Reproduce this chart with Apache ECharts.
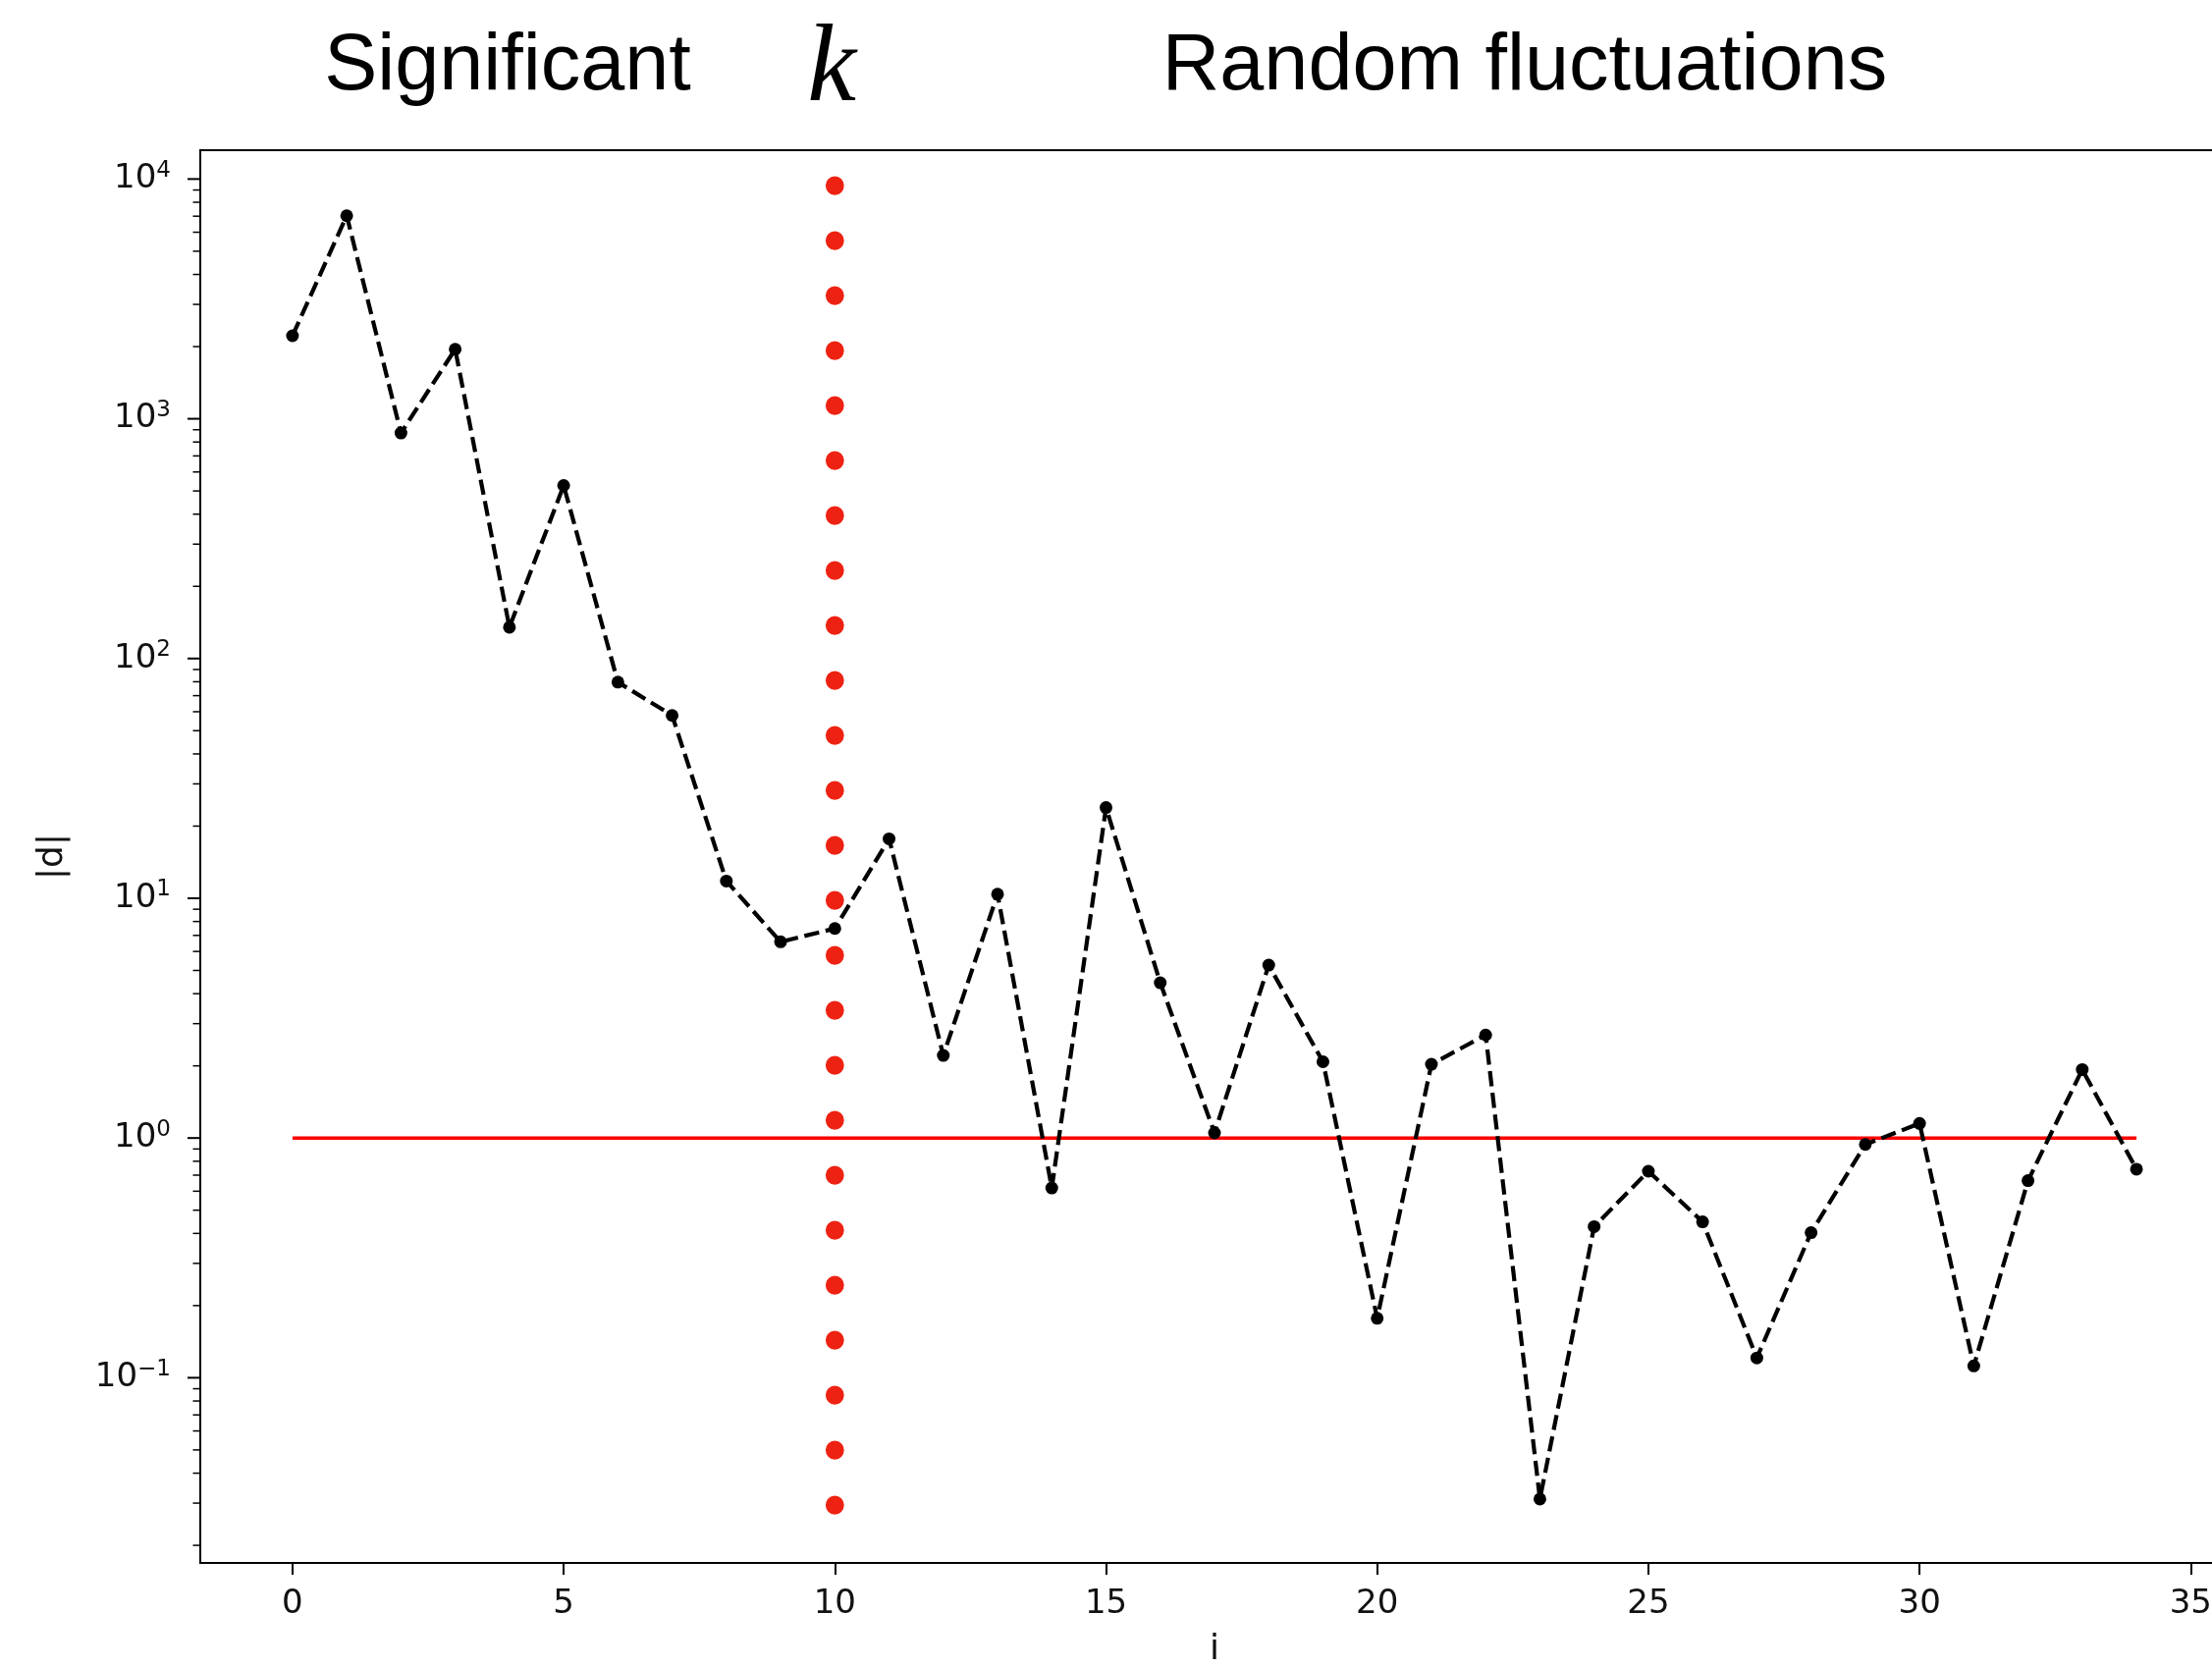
<!DOCTYPE html>
<html>
<head>
<meta charset="utf-8">
<script src="https://cdn.jsdelivr.net/npm/echarts@6/dist/echarts.min.js"></script>
<style>
html,body{margin:0;padding:0;background:#fff;}
#chart{width:2253px;height:1698px;}
</style>
</head>
<body>
<div id="chart"></div>
<script>
// ---- data ----
const indices = [0,1,2,3,4,5,6,7,8,9,10,11,12,13,14,15,16,17,18,19,20,21,22,23,24,25,26,27,28,29,30,31,32,33,34];
const dValues = [2220, 7030, 872, 1950, 135, 527, 79.7, 57.9, 11.8, 6.58, 7.48, 17.7, 2.21, 10.4, 0.619, 23.9, 4.44, 1.05, 5.26, 2.08, 0.177, 2.03, 2.69, 0.0312, 0.427, 0.727, 0.447, 0.121, 0.403, 0.94, 1.15, 0.112, 0.664, 1.93, 0.741];
const thresholdLine = [[0, 1], [34, 1]];
const kLine = [[10, 0.02938], [10, 9400]];
const xTicks = [0, 5, 10, 15, 20, 25, 30, 35];
const yDecades = [-2, -1, 0, 1, 2, 3, 4];
const titleLeft = 'Significant';
const titleK = 'k';
const titleRight = 'Random fluctuations';

const X_MIN = -1.7, X_MAX = 35.7;
const Y_MIN = 0.01689, Y_MAX = 13190;

// y tick values (major powers of ten and minor 2..9 multiples) inside the range
const yTickVals = [];
yDecades.forEach(function (e) {
  for (let m = 1; m <= 9; m++) {
    const v = m * Math.pow(10, e);
    if (v >= Y_MIN && v <= Y_MAX) yTickVals.push([X_MIN, v, m === 1 ? 1 : 0]);
  }
});

const chart = echarts.init(document.getElementById('chart'), null, {renderer: 'canvas'});
const tickFont = 'DejaVu Sans';

chart.setOption({
  animation: false,
  backgroundColor: '#fff',
  grid: {
    show: true, borderColor: '#000', borderWidth: 2, backgroundColor: 'transparent',
    left: 204, top: 153, width: 2066, height: 1439,
    containLabel: false, outerBoundsMode: 'none'
  },
  xAxis: {
    type: 'value', min: X_MIN, max: X_MAX,
    axisLine: {show: false},
    splitLine: {show: false},
    axisTick: {show: true, customValues: xTicks, length: 12, lineStyle: {color: '#000', width: 2}},
    axisLabel: {customValues: xTicks, margin: 25, fontSize: 34, fontFamily: tickFont, color: '#111'},
    name: 'i', nameLocation: 'middle', nameGap: 71,
    nameTextStyle: {fontSize: 36, fontFamily: tickFont, color: '#111'}
  },
  yAxis: {
    type: 'log', logBase: 10, min: Y_MIN, max: Y_MAX,
    axisLine: {show: false},
    splitLine: {show: false},
    axisTick: {show: false},
    axisLabel: {
      margin: 30,
      formatter: function (v) {
        const l = Math.log10(v);
        const e = Math.round(l);
        if (Math.abs(l - e) > 1e-6) return '';
        const s = e < 0 ? '\u2212' + (-e) : String(e);
        return '{b|10}{s|' + s + '}';
      },
      rich: {
        b: {fontSize: 34, fontFamily: tickFont, color: '#111', lineHeight: 40},
        s: {fontSize: 23, fontFamily: tickFont, color: '#111', verticalAlign: 'top', lineHeight: 26}
      }
    },
    name: '|d|', nameLocation: 'middle', nameGap: 132,
    nameTextStyle: {fontSize: 36, fontFamily: tickFont, color: '#111'}
  },
  graphic: [
    {type: 'text', x: 517, y: 69, style: {text: titleLeft, font: '81px "Liberation Sans"', fill: '#000', textAlign: 'center', textVerticalAlign: 'middle'}},
    {type: 'text', x: 847, y: 73, style: {text: titleK, font: 'italic 112px "Liberation Serif"', fill: '#000', textAlign: 'center', textVerticalAlign: 'middle'}},
    {type: 'text', x: 1553, y: 69, style: {text: titleRight, font: '81px "Liberation Sans"', fill: '#000', textAlign: 'center', textVerticalAlign: 'middle'}}
  ],
  series: [
    {
      type: 'custom', coordinateSystem: 'cartesian2d', silent: true, clip: false, z: 5,
      data: yTickVals,
      renderItem: function (params, api) {
        const v = api.value(1);
        const major = api.value(2) === 1;
        const p = api.coord([X_MIN, v]);
        const len = major ? 13 : 7.5;
        return {
          type: 'line',
          shape: {x1: p[0] - len, y1: p[1], x2: p[0], y2: p[1]},
          style: {stroke: '#000', lineWidth: major ? 2 : 1.5}
        };
      }
    },
    {
      type: 'line', data: thresholdLine, symbol: 'none', silent: true, z: 2,
      lineStyle: {color: '#ff0000', width: 3.6}
    },
    {
      type: 'line', data: kLine, symbol: 'none', silent: true, z: 2,
      lineStyle: {color: '#ee2212', width: 18.7, type: [0.5, 55.5], cap: 'round'}
    },
    {
      type: 'line', data: indices.map(function (i, k) { return [i, dValues[k]]; }),
      symbol: 'circle', symbolSize: 13, silent: true, z: 3,
      itemStyle: {color: '#000'},
      lineStyle: {color: '#000', width: 4.2, type: [15.5, 6.7]}
    }
  ]
});
</script>
</body>
</html>
